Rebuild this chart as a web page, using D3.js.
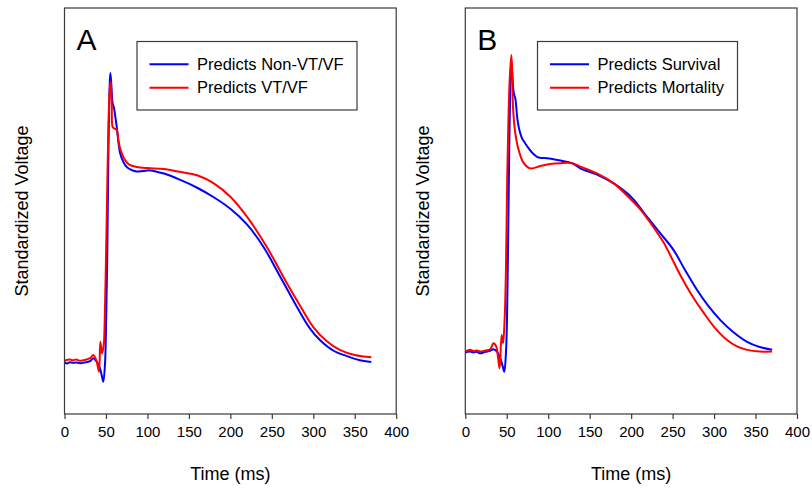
<!DOCTYPE html>
<html>
<head>
<meta charset="utf-8">
<script src="https://cdn.jsdelivr.net/npm/d3@7"></script>
<style>
  html, body { margin: 0; padding: 0; background: #fff; }
  svg text { font-family: "Liberation Sans", Arial, sans-serif; fill: #000; }
</style>
</head>
<body>
<svg id="chart" width="812" height="489"></svg>
<script>
// ---------- DATA ----------
const xTicks = [0, 50, 100, 150, 200, 250, 300, 350, 400];

// Panel A, blue: Predicts Non-VT/VF
const timeA_nonVT = [0,3,6.6,10,14,18.7,24,30.8,34.7,38.8,42.8,45,46.8,48.9,50,51.5,53,54.5,55.3,56.5,58,59.7,61,63,65,67,71,75,80,87,95,103,120,139,160,180,200,220,240,260,280,295,308,325,340,355,370];
const voltA_nonVT = [-0.002,-0.005,-0.001,-0.003,-0.002,-0.004,-0.002,0.003,0.013,0.001,-0.022,-0.048,-0.068,-0.003,0.111,0.353,0.734,0.958,1.0,0.958,0.896,0.879,0.855,0.813,0.761,0.723,0.692,0.675,0.666,0.659,0.661,0.663,0.652,0.631,0.603,0.570,0.530,0.476,0.398,0.296,0.192,0.120,0.076,0.038,0.021,0.007,0.0];

// Panel A, red: Predicts VT/VF
const timeA_VT = [0,3,6.6,10,14,18.7,24,30.8,34.7,38.8,41.6,43.2,45.2,47.3,48.5,50,51.5,53,54.5,55.7,57,58,60,63,65,67,70,73,78,87,100,120,139,160,180,200,220,244,268,285,300,316,332,350,370];
const voltA_VT = [0.004,0.007,0.009,0.006,0.009,0.004,0.007,0.013,0.024,0.001,-0.034,0.070,0.030,0.059,0.145,0.353,0.595,0.820,0.941,0.970,0.889,0.814,0.808,0.803,0.768,0.740,0.716,0.699,0.683,0.675,0.671,0.668,0.658,0.646,0.618,0.572,0.503,0.398,0.273,0.190,0.121,0.073,0.042,0.024,0.016];

// Panel B, blue: Predicts Survival
const timeB_survival = [0,3,6,10,14,18,24,30,34,38.2,42.2,45,47,49,50.3,51.5,53,54.5,55.5,56.5,58,59,60.3,63,65.5,68.4,72,76.4,81,86.5,92,98.5,114.6,128.7,138.7,160,179,200,219,235,251,265,279.5,293,307.6,323,339.8,355,370];
const voltB_survival = [0.032,0.035,0.036,0.033,0.035,0.030,0.035,0.039,0.044,0.036,0.013,-0.014,-0.034,0.031,0.145,0.388,0.734,0.976,1.038,1.003,0.941,0.924,0.912,0.837,0.799,0.774,0.758,0.739,0.723,0.710,0.706,0.705,0.697,0.688,0.670,0.647,0.618,0.571,0.503,0.446,0.388,0.318,0.249,0.194,0.145,0.104,0.070,0.052,0.042];

// Panel B, red: Predicts Mortality
const timeB_mortality = [0,3,6,10,14,18,24,30,34,37.4,39.5,41.4,43.8,45.5,47.4,49,50.5,52,53.5,55.5,56.5,57.5,60.3,64.3,70.3,78.4,90.5,102.5,114.6,128.7,138.7,160,179,195,211,225,239,259,273,287.5,301,315.6,327,339.8,355,370];
const voltB_mortality = [0.036,0.040,0.042,0.038,0.040,0.036,0.040,0.044,0.065,0.053,0.014,-0.022,0.093,0.065,0.145,0.318,0.630,0.837,0.976,1.062,1.010,0.883,0.792,0.734,0.689,0.670,0.678,0.685,0.688,0.688,0.676,0.651,0.618,0.576,0.528,0.474,0.414,0.302,0.232,0.170,0.118,0.076,0.055,0.042,0.036,0.036];

const panelLabels = ["A", "B"];
const legendA = ["Predicts Non-VT/VF", "Predicts VT/VF"];
const legendB = ["Predicts Survival", "Predicts Mortality"];
const seriesColors = ["#0000ff", "#ff0000"];
const xTitle = "Time (ms)";
const yTitle = "Standardized Voltage";

// ---------- DRAW ----------
const svg = d3.select("#chart");
const zip = (t, v) => t.map((d, i) => ({t: d, v: v[i]}));

const panels = [
  {x0: 64.5, label: panelLabels[0], legend: legendA, yTitleX: 22,
   series: [zip(timeA_nonVT, voltA_nonVT), zip(timeA_VT, voltA_VT)],
   legendBox: {x: 137, w: 220}},
  {x0: 465.3, label: panelLabels[1], legend: legendB, yTitleX: 423,
   series: [zip(timeB_survival, voltB_survival), zip(timeB_mortality, voltB_mortality)],
   legendBox: {x: 537.5, w: 200}}
];

const plotTop = 8, plotBottom = 414, plotW = 331.7;
const frameColor = "#3a3a3a";

panels.forEach(p => {
  const x = d3.scaleLinear().domain([0, 400]).range([p.x0, p.x0 + plotW]);
  const y = d3.scaleLinear().domain([-0.18, 1.225]).range([plotBottom, plotTop]);
  const g = svg.append("g");

  // curves
  const line = d3.line().x(d => x(d.t)).y(d => y(d.v)).curve(d3.curveCatmullRom.alpha(0.5));
  p.series.forEach((s, i) => {
    g.append("path").datum(s)
      .attr("d", line)
      .attr("fill", "none")
      .attr("stroke", seriesColors[i])
      .attr("stroke-width", 2)
      .attr("stroke-linejoin", "round");
  });

  // frame
  g.append("rect")
    .attr("x", x(0)).attr("y", plotTop)
    .attr("width", x(400) - x(0)).attr("height", plotBottom - plotTop)
    .attr("fill", "none").attr("stroke", frameColor).attr("stroke-width", 1.2);

  // bottom axis
  const ax = g.append("g").attr("transform", `translate(0,${plotBottom})`)
    .call(d3.axisBottom(x).tickValues(xTicks).tickSize(5).tickPadding(7).tickFormat(d3.format("d")));
  ax.select(".domain").remove();
  ax.selectAll(".tick line").attr("stroke", frameColor).attr("stroke-width", 1.2);
  ax.selectAll(".tick text").attr("font-size", 15)
    .style("font-family", "'Liberation Sans', Arial, sans-serif").attr("fill", "#000");

  // titles
  g.append("text").attr("x", x(200)).attr("y", 480)
    .attr("text-anchor", "middle").attr("font-size", 18).text(xTitle);
  g.append("text")
    .attr("transform", `translate(${p.yTitleX + 6},${(plotTop + plotBottom) / 2}) rotate(-90)`)
    .attr("text-anchor", "middle").attr("font-size", 18).text(yTitle);

  // panel letter
  g.append("text").attr("x", p.x0 + 12).attr("y", 50)
    .attr("font-size", 30).text(p.label);

  // legend
  const lb = p.legendBox;
  g.append("rect").attr("x", lb.x).attr("y", 41.5).attr("width", lb.w).attr("height", 68.5)
    .attr("fill", "#fff").attr("stroke", frameColor).attr("stroke-width", 1.2);
  p.legend.forEach((name, i) => {
    const ly = 64.3 + i * 23.4;
    g.append("line").attr("x1", lb.x + 12.5).attr("x2", lb.x + 51.5)
      .attr("y1", ly).attr("y2", ly)
      .attr("stroke", seriesColors[i]).attr("stroke-width", 2);
    g.append("text").attr("x", lb.x + 60).attr("y", ly + 5.5)
      .attr("font-size", 16.5).text(name);
  });
});
</script>
</body>
</html>
